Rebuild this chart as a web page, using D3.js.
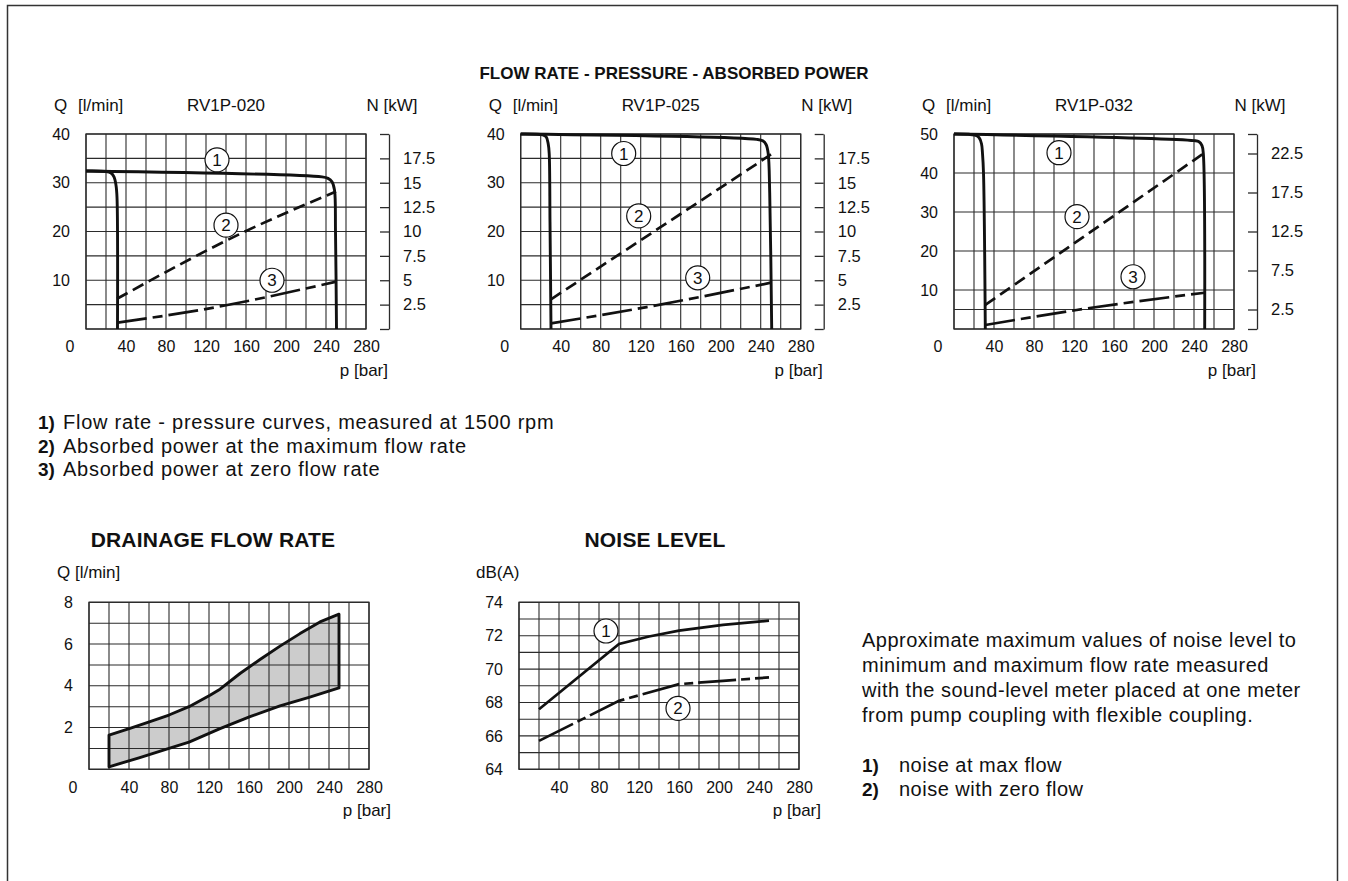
<!DOCTYPE html>
<html>
<head>
<meta charset="utf-8">
<script src="https://cdn.jsdelivr.net/npm/d3@7"></script>
<style>
    body { margin: 0; background: #fff; }
    svg { display: block; font-family: "Liberation Sans", Arial, sans-serif; }
</style>
</head>
<body>
<div id="graf"></div>
<script>
// Datos comunes: presión en bar
const presionTicks = [40, 80, 120, 160, 200, 240, 280]
const presionGrid = [0, 20, 40, 60, 80, 100, 120, 140, 160, 180, 200, 220, 240, 260, 280]
const modelos = ['RV1P-020', 'RV1P-025', 'RV1P-032']

// RV1P-020  (curvas en [p, Q] y potencias en [p, N])
const q020Ticks = [10, 20, 30, 40]
const q020Grid = [0, 5, 10, 15, 20, 25, 30, 35, 40]
const n020Ticks = [0, 2.5, 5, 7.5, 10, 12.5, 15, 17.5, 20]
const n020Labels = [2.5, 5, 7.5, 10, 12.5, 15, 17.5]
const q020Baja = [[0, 32.4], [20, 32.3], [25, 32.0], [28, 31.2], [30, 29.5], [31, 27], [31.5, 0]]
const q020Alta = [[0, 32.4], [236, 31.2], [242, 30.9], [246, 30.2], [248.5, 28.5], [249.5, 20], [250.5, 0]]
const n020Max = [[31, 3.1], [159, 10.0], [250, 14.1]]
const n020Cero = [[31, 0.65], [117, 2.0], [250, 4.85]]
const circ020 = [[131, 34.7, '1'], [140, 21.3, '2'], [186, 10, '3']]

// RV1P-025
const q025Ticks = [10, 20, 30, 40]
const q025Grid = [0, 5, 10, 15, 20, 25, 30, 35, 40]
const n025Ticks = [0, 2.5, 5, 7.5, 10, 12.5, 15, 17.5, 20]
const n025Labels = [2.5, 5, 7.5, 10, 12.5, 15, 17.5]
const q025Baja = [[0, 40], [22, 39.8], [25.5, 39.4], [27.5, 38], [28.5, 36], [29.3, 22], [30.3, 0]]
const q025Alta = [[0, 40], [236, 38.9], [242, 38.6], [245.5, 37.8], [247.5, 36], [249, 28], [251, 0]]
const n025Max = [[30.3, 3.05], [250.3, 17.9]]
const n025Cero = [[30.3, 0.58], [126, 2.25], [250.3, 4.75]]
const circ025 = [[103, 36, '1'], [118, 23.2, '2'], [177, 10.5, '3']]

// RV1P-032
const q032Ticks = [10, 20, 30, 40, 50]
const q032Grid = [0, 5, 10, 20, 30, 40, 50]
const n032Ticks = [0, 2.5, 7.5, 12.5, 17.5, 22.5, 25]
const n032Labels = [2.5, 7.5, 12.5, 17.5, 22.5]
const q032Baja = [[0, 50], [21, 49.7], [25, 49.1], [27.5, 47.5], [28.5, 45], [29.5, 40], [31.3, 0]]
const q032Alta = [[0, 50], [240, 48.3], [245, 48.0], [248, 47.0], [249.3, 45], [250.7, 0]]
const n032Max = [[31.3, 3.08], [250.7, 22.6]]
const n032Cero = [[31.3, 0.51], [122.7, 2.44], [250.7, 4.65]]
const circ032 = [[105, 45.2, '1'], [123, 28.8, '2'], [179, 13.4, '3']]

// Caudal de drenaje [p, Q]
const drenajeTicks = [2, 4, 6, 8]
const drenajeGrid = [0, 1, 2, 3, 4, 5, 6, 7, 8]
const drenajeSup = [[20, 1.64], [41, 1.96], [61, 2.28], [80, 2.6], [100, 3.0], [121, 3.55], [131, 3.84],
    [151, 4.59], [171, 5.26], [191, 5.9], [211, 6.5], [231, 7.06], [250, 7.43]]
const drenajeInf = [[20, 0.12], [50, 0.55], [80, 1.0], [100, 1.3], [131, 1.95], [161, 2.52],
    [191, 3.04], [220, 3.45], [250, 3.9]]

// Nivel de ruido [p, dB(A)]
const ruidoTicks = [64, 66, 68, 70, 72, 74]
const ruidoGrid = [64, 65, 66, 67, 68, 69, 70, 71, 72, 73, 74]
const ruidoMax = [[20, 67.6], [100, 71.5], [130, 71.95], [160, 72.3], [204, 72.65], [250, 72.9]]
const ruidoCero = [[20, 65.7], [100, 68.1], [160, 69.1], [204, 69.3], [250, 69.5]]
const circRuido = [[87, 72.28, '1'], [159, 67.65, '2']]

// Textos
const leyendaPotencia = [
    ['1)', 'Flow rate - pressure curves, measured at 1500 rpm'],
    ['2)', 'Absorbed power at the maximum flow rate'],
    ['3)', 'Absorbed power at zero flow rate']
]
const textoRuido = [
    'Approximate maximum values of noise level to',
    'minimum and maximum flow rate measured',
    'with the sound-level meter placed at one meter',
    'from pump coupling with flexible coupling.'
]
const leyendaRuido = [['1)', 'noise at max flow'], ['2)', 'noise with zero flow']]

const ancho = 1348
const alto = 881
const tinta = '#111'
const gris = '#2b2b2b'
const fuente = '"Liberation Sans", Arial, sans-serif'

const svg = d3.select('#graf')
    .append('svg')
    .attr('width', ancho)
    .attr('height', alto)

// Marco exterior (sin borde inferior visible)
svg.append('rect')
    .attr('x', 7.5).attr('y', 5.5)
    .attr('width', 1330).attr('height', 900)
    .attr('fill', 'none').attr('stroke', '#333').attr('stroke-width', 1.5)

svg.append('text')
    .attr('x', 674).attr('y', 79)
    .attr('text-anchor', 'middle')
    .attr('font-weight', 'bold').attr('font-size', 17).attr('fill', tinta)
    .text('FLOW RATE - PRESSURE - ABSORBED POWER')

// Rejilla y marco de cada gráfica
function rejilla(g, x, y, xs, ys) {
    const [y0, y1] = y.range()
    const [x0, x1] = x.range()
    g.append('g').selectAll('line').data(xs).join('line')
        .attr('x1', d => x(d)).attr('x2', d => x(d))
        .attr('y1', y0).attr('y2', y1)
        .attr('stroke', gris).attr('stroke-width', 1.1)
    g.append('g').selectAll('line').data(ys).join('line')
        .attr('x1', x0).attr('x2', x1)
        .attr('y1', d => y(d)).attr('y2', d => y(d))
        .attr('stroke', gris).attr('stroke-width', 1.1)
    g.append('rect')
        .attr('x', x0).attr('y', y1)
        .attr('width', x1 - x0).attr('height', y0 - y1)
        .attr('fill', 'none').attr('stroke', gris).attr('stroke-width', 1.3)
}

function ejes(g, x, y, yTicks, conCero) {
    const bottom = y.range()[0]
    g.append('g')
        .attr('transform', `translate(0, ${bottom})`)
        .call(d3.axisBottom(x).tickValues(presionTicks).tickSize(0).tickPadding(12))
        .call(a => a.select('.domain').remove())
        .call(a => a.selectAll('text').attr('font-size', 16).attr('fill', tinta).attr('font-family', fuente))
    g.append('g')
        .attr('transform', `translate(${x.range()[0]}, 0)`)
        .call(d3.axisLeft(y).tickValues(yTicks).tickSize(0).tickPadding(16))
        .call(a => a.select('.domain').remove())
        .call(a => a.selectAll('text').attr('font-size', 16).attr('fill', tinta).attr('font-family', fuente))
    if (conCero) {
        g.append('text')
            .attr('x', x(0) - 16).attr('y', bottom + 12).attr('dy', '0.71em')
            .attr('text-anchor', 'middle').attr('font-size', 16).attr('fill', tinta)
            .text('0')
    }
    g.append('text')
        .attr('x', x.range()[1] + 22).attr('y', bottom + 47)
        .attr('text-anchor', 'end').attr('font-size', 17).attr('fill', tinta)
        .text('p [bar]')
}

function circulos(g, x, y, datos) {
    const c = g.append('g').selectAll('g').data(datos).join('g')
        .attr('transform', d => `translate(${x(d[0])}, ${y(d[1])})`)
    c.append('circle').attr('r', 12).attr('fill', '#fff').attr('stroke', tinta).attr('stroke-width', 1.2)
    c.append('text').attr('text-anchor', 'middle').attr('dy', '0.36em')
        .attr('font-size', 17).attr('fill', tinta).text(d => d[2])
}

// Gráficas superiores
const paneles = [
    { izq: 86, qMax: 40, nMax: 20, modelo: modelos[0], qTicks: q020Ticks, qGrid: q020Grid, nTicks: n020Ticks, nLabels: n020Labels,
      baja: q020Baja, alta: q020Alta, nMaxCurva: n020Max, nCero: n020Cero, circ: circ020 },
    { izq: 520.7, qMax: 40, nMax: 20, modelo: modelos[1], qTicks: q025Ticks, qGrid: q025Grid, nTicks: n025Ticks, nLabels: n025Labels,
      baja: q025Baja, alta: q025Alta, nMaxCurva: n025Max, nCero: n025Cero, circ: circ025 },
    { izq: 954, qMax: 50, nMax: 25, modelo: modelos[2], qTicks: q032Ticks, qGrid: q032Grid, nTicks: n032Ticks, nLabels: n032Labels,
      baja: q032Baja, alta: q032Alta, nMaxCurva: n032Max, nCero: n032Cero, circ: circ032 }
]

const arriba = 134
const abajo = 329

paneles.forEach(p => {
    const g = svg.append('g')
    const x = d3.scaleLinear().domain([0, 280]).range([p.izq, p.izq + 280])
    const y = d3.scaleLinear().domain([0, p.qMax]).range([abajo, arriba])
    const yN = d3.scaleLinear().domain([0, p.nMax]).range([abajo, arriba])

    // Cabecera
    g.append('text').attr('x', p.izq - 32).attr('y', 111).attr('font-size', 17).attr('fill', tinta).text('Q')
    g.append('text').attr('x', p.izq - 8).attr('y', 111).attr('font-size', 17).attr('fill', tinta).text('[l/min]')
    g.append('text').attr('x', p.izq + 140).attr('y', 111).attr('text-anchor', 'middle')
        .attr('font-size', 17).attr('fill', tinta).text(p.modelo)
    g.append('text').attr('x', p.izq + 306).attr('y', 111).attr('text-anchor', 'middle')
        .attr('font-size', 17).attr('fill', tinta).text('N [kW]')

    rejilla(g, x, y, presionGrid, p.qGrid)
    ejes(g, x, y, p.qTicks, true)

    // Eje derecho de potencia
    g.append('g')
        .attr('transform', `translate(${p.izq + 303}, 0)`)
        .call(d3.axisRight(yN).tickValues(p.nTicks).tickSizeInner(-9).tickSizeOuter(0).tickPadding(14)
            .tickFormat(d => p.nLabels.includes(d) ? d : ''))
        .call(a => a.selectAll('line,path').attr('stroke', gris).attr('stroke-width', 1.3))
        .call(a => a.selectAll('text').attr('font-size', 16.5).attr('fill', tinta).attr('font-family', fuente))

    const lineaQ = d3.line().x(d => x(d[0])).y(d => y(d[1])).curve(d3.curveCatmullRom.alpha(0.5))
    const lineaN = d3.line().x(d => x(d[0])).y(d => yN(d[1])).curve(d3.curveMonotoneX)

    g.append('path').attr('d', lineaQ(p.baja)).attr('fill', 'none').attr('stroke', tinta).attr('stroke-width', 2.9)
    g.append('path').attr('d', lineaQ(p.alta)).attr('fill', 'none').attr('stroke', tinta).attr('stroke-width', 2.9)
    g.append('path').attr('d', lineaN(p.nMaxCurva)).attr('fill', 'none').attr('stroke', tinta)
        .attr('stroke-width', 2.7).attr('stroke-dasharray', '12,6')
    g.append('path').attr('d', lineaN(p.nCero)).attr('fill', 'none').attr('stroke', tinta)
        .attr('stroke-width', 2.7).attr('stroke-dasharray', '30,6,10,6')

    circulos(g, x, y, p.circ)
})

// Leyenda superior
leyendaPotencia.forEach((l, i) => {
    svg.append('text').attr('x', 38).attr('y', 429 + i * 23.5)
        .attr('font-size', 19).attr('font-weight', 'bold').attr('fill', tinta).text(l[0])
    svg.append('text').attr('x', 63).attr('y', 429 + i * 23.5)
        .attr('font-size', 20).attr('letter-spacing', 0.75).attr('fill', tinta).text(l[1])
})

// Gráficas inferiores
const arribaInf = 602.3
const abajoInf = 769.3

// Caudal de drenaje
{
    const g = svg.append('g')
    const x = d3.scaleLinear().domain([0, 280]).range([89, 369])
    const y = d3.scaleLinear().domain([0, 8]).range([abajoInf, arribaInf])
    g.append('text').attr('x', 213).attr('y', 547).attr('text-anchor', 'middle')
        .attr('font-size', 21).attr('letter-spacing', 0.2).attr('font-weight', 'bold').attr('fill', tinta)
        .text('DRAINAGE FLOW RATE')
    g.append('text').attr('x', 57).attr('y', 578).attr('font-size', 17).attr('fill', tinta).text('Q [l/min]')

    const poligono = drenajeSup.concat(drenajeInf.slice().reverse())
    const contorno = d3.line().x(d => x(d[0])).y(d => y(d[1])).curve(d3.curveLinearClosed)
    g.append('path').attr('d', contorno(poligono)).attr('fill', '#cccccc')

    rejilla(g, x, y, presionGrid, drenajeGrid)

    g.append('path').attr('d', contorno(poligono))
        .attr('fill', 'none').attr('stroke', tinta).attr('stroke-width', 2.9).attr('stroke-linejoin', 'round')
    ejes(g, x, y, drenajeTicks, true)
}

// Nivel de ruido
{
    const g = svg.append('g')
    const x = d3.scaleLinear().domain([0, 280]).range([519, 799])
    const y = d3.scaleLinear().domain([64, 74]).range([abajoInf, arribaInf])
    g.append('text').attr('x', 655).attr('y', 547).attr('text-anchor', 'middle')
        .attr('font-size', 21).attr('letter-spacing', 0.2).attr('font-weight', 'bold').attr('fill', tinta)
        .text('NOISE LEVEL')
    g.append('text').attr('x', 476).attr('y', 578).attr('font-size', 17).attr('fill', tinta).text('dB(A)')

    rejilla(g, x, y, presionGrid, ruidoGrid)
    ejes(g, x, y, ruidoTicks, false)

    const linea = d3.line().x(d => x(d[0])).y(d => y(d[1]))
    g.append('path').attr('d', linea(ruidoMax)).attr('fill', 'none').attr('stroke', tinta).attr('stroke-width', 2.7)
    g.append('path').attr('d', linea(ruidoCero)).attr('fill', 'none').attr('stroke', tinta)
        .attr('stroke-width', 2.7).attr('stroke-dasharray', '38,5,9,5')
    circulos(g, x, y, circRuido)
}

// Texto explicativo del ruido
textoRuido.forEach((t, i) => {
    svg.append('text').attr('x', 862).attr('y', 647 + i * 25)
        .attr('font-size', 20).attr('letter-spacing', 0.5).attr('fill', tinta).text(t)
})
leyendaRuido.forEach((l, i) => {
    svg.append('text').attr('x', 862).attr('y', 772 + i * 24)
        .attr('font-size', 19).attr('font-weight', 'bold').attr('fill', tinta).text(l[0])
    svg.append('text').attr('x', 899).attr('y', 772 + i * 24)
        .attr('font-size', 20).attr('letter-spacing', 0.5).attr('fill', tinta).text(l[1])
})
</script>
</body>
</html>
